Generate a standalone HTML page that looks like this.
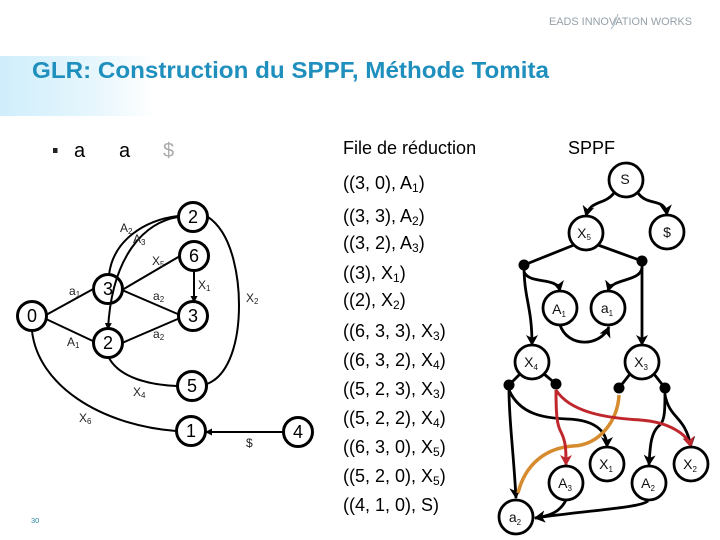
<!DOCTYPE html>
<html>
<head>
<meta charset="utf-8">
<style>
html,body{margin:0;padding:0;background:#fff}
svg{display:block}
text{font-family:"Liberation Sans",sans-serif}
.s{fill:#fff;stroke:#000;stroke-width:2.8}
.nt{font-size:18px;text-anchor:middle;fill:#000}
.st{font-size:14px;text-anchor:middle;fill:#111}
.l{font-size:12px;fill:#222}
.sub{font-size:8px}
.q{font-size:18px;fill:#000}
.q .i{font-size:12px}
.e{fill:none;stroke:#000;stroke-width:2}
.p{fill:none;stroke:#000;stroke-width:2.8}
</style>
</head>
<body>
<svg xmlns="http://www.w3.org/2000/svg" width="720" height="540" viewBox="0 0 720 540">
<defs>
<linearGradient id="g" x1="0" x2="1" y1="0" y2="0"><stop offset="0" stop-color="#cfeefb"/><stop offset="0.6" stop-color="#e6f6fd"/><stop offset="1" stop-color="#fff"/></linearGradient>
<marker id="a" markerWidth="7" markerHeight="7" refX="6" refY="3.5" orient="auto" markerUnits="userSpaceOnUse"><path d="M0 0L7 3.5L0 7z" fill="#000"/></marker>
<marker id="b" markerWidth="12" markerHeight="12" refX="10" refY="6" orient="auto" markerUnits="userSpaceOnUse"><path d="M0 0L11 6L0 12L3 6z" fill="#000"/></marker>
<marker id="r" markerWidth="12" markerHeight="12" refX="10" refY="6" orient="auto" markerUnits="userSpaceOnUse"><path d="M0 0L11 6L0 12L3 6z" fill="#c0272d"/></marker>
</defs>
<rect width="720" height="540" fill="#fff"/>
<rect x="0" y="56" width="155" height="60" fill="url(#g)"/>
<text x="549" y="25" font-size="11" fill="#95a0a9" textLength="143" lengthAdjust="spacingAndGlyphs">EADS INNOVATION WORKS</text>
<path d="M611 29L614 25L618 14" fill="none" stroke="#9fb4c0" stroke-width="1"/>
<text x="32" y="78" font-size="23" font-weight="bold" fill="#1f8fbd" textLength="517" lengthAdjust="spacingAndGlyphs">GLR: Construction du SPPF, Méthode Tomita</text>
<rect x="53" y="148" width="4.500" height="5" fill="#222"/>
<text x="74" y="157" font-size="20" fill="#000">a</text>
<text x="119" y="157" font-size="20" fill="#000">a</text>
<text x="163" y="157" font-size="20" fill="#aaa">$</text>
<text x="343" y="154" font-size="18" fill="#000">File de réduction</text>
<text x="568" y="154" font-size="18" fill="#000">SPPF</text>

<!-- GSS edges -->
<g class="e">
<path d="M46 315L95 288"/><path d="M46 319L95 342"/>
<path d="M122 290L180 256"/><path d="M122 290L180 315"/><path d="M122 343L180 318"/>
<path d="M194 271L194 302" marker-end="url(#a)"/>
<path d="M109 275C113 240 145 220 178 216"/>
<path d="M208 217C235 235 239 285 239 305C239 340 230 375 207 384"/>
<path d="M109 358C120 378 150 385 177 386"/>
<path d="M32 331C38 385 100 425 176 431"/>
<path d="M283 432L206 432" marker-end="url(#a)"/>
</g>
<g fill="#fff" stroke="#000" stroke-width="3">
<circle cx="193" cy="217" r="14.500"/><circle cx="194" cy="256" r="14.500"/>
<circle cx="193" cy="316" r="14.500"/><circle cx="32" cy="316" r="14.500"/>
<circle cx="108" cy="343" r="14.500"/><circle cx="192" cy="386" r="14.500"/>
<circle cx="191" cy="431" r="14.500"/><circle cx="298" cy="432" r="14.500"/>
<circle cx="108" cy="289" r="14.500"/>
</g>
<g class="nt">
<text x="193" y="223">2</text><text x="194" y="262">6</text><text x="108" y="295">3</text><text x="193" y="322">3</text>
<text x="32" y="322">0</text><text x="108" y="349">2</text><text x="192" y="392">5</text><text x="191" y="437">1</text><text x="298" y="438">4</text>
</g>
<path d="M178 217C145 222 112 255 108 329" class="e" marker-end="url(#a)"/>
<g class="l">
<text x="120" y="232">A<tspan class="sub" dy="2">2</tspan></text>
<text x="133" y="243">A<tspan class="sub" dy="2">3</tspan></text>
<text x="152" y="265">X<tspan class="sub" dy="2">5</tspan></text>
<text x="69" y="295">a<tspan class="sub" dy="2">1</tspan></text>
<text x="153" y="300">a<tspan class="sub" dy="2">2</tspan></text>
<text x="198" y="289">X<tspan class="sub" dy="2">1</tspan></text>
<text x="246" y="302">X<tspan class="sub" dy="2">2</tspan></text>
<text x="153" y="338">a<tspan class="sub" dy="2">2</tspan></text>
<text x="67" y="346">A<tspan class="sub" dy="2">1</tspan></text>
<text x="133" y="396">X<tspan class="sub" dy="2">4</tspan></text>
<text x="79" y="422">X<tspan class="sub" dy="2">6</tspan></text>
<text x="246" y="447">$</text>
</g>
<text x="31" y="523" font-size="7.500" fill="#2b8aa5">30</text>

<!-- Queue -->
<g class="q">
<text x="343" y="189">((3, 0), A<tspan class="i" dy="3">1</tspan><tspan dy="-3">)</tspan></text>
<text x="343" y="222">((3, 3), A<tspan class="i" dy="3">2</tspan><tspan dy="-3">)</tspan></text>
<text x="343" y="249">((3, 2), A<tspan class="i" dy="3">3</tspan><tspan dy="-3">)</tspan></text>
<text x="343" y="279">((3), X<tspan class="i" dy="3">1</tspan><tspan dy="-3">)</tspan></text>
<text x="343" y="306">((2), X<tspan class="i" dy="3">2</tspan><tspan dy="-3">)</tspan></text>
<text x="343" y="337">((6, 3, 3), X<tspan class="i" dy="3">3</tspan><tspan dy="-3">)</tspan></text>
<text x="343" y="366">((6, 3, 2), X<tspan class="i" dy="3">4</tspan><tspan dy="-3">)</tspan></text>
<text x="343" y="395">((5, 2, 3), X<tspan class="i" dy="3">3</tspan><tspan dy="-3">)</tspan></text>
<text x="343" y="424">((5, 2, 2), X<tspan class="i" dy="3">4</tspan><tspan dy="-3">)</tspan></text>
<text x="343" y="453">((6, 3, 0), X<tspan class="i" dy="3">5</tspan><tspan dy="-3">)</tspan></text>
<text x="343" y="482">((5, 2, 0), X<tspan class="i" dy="3">5</tspan><tspan dy="-3">)</tspan></text>
<text x="343" y="511">((4, 1, 0), S)</text>
</g>

<!-- SPPF edges -->
<g class="p">
<path d="M614 193C605 205 590 200 586 216" marker-end="url(#b)"/>
<path d="M638 193C648 207 665 197 667 215" marker-end="url(#b)"/>
<path d="M574 245L524 265"/><path d="M598 245L642 261"/>
<path d="M524 272C530 285 557 276 560 291" marker-end="url(#b)"/>
<path d="M642 268C640 282 612 278 608 291" marker-end="url(#b)"/>
<path d="M524 265C524 300 532 305 532 345" marker-end="url(#b)"/>
<path d="M642 261L642 345" marker-end="url(#b)"/>
<path d="M560 325C568 348 600 347 609 327" marker-end="url(#b)"/>
<path d="M520 374L509 385"/><path d="M544 374L556 384"/>
<path d="M630 374L619 388"/><path d="M654 374L665 388"/>
<path d="M509 390C509 420 513 445 516 498" marker-end="url(#b)"/>
<path d="M509 390C520 415 545 418 567 419C600 420 607 435 607 447" marker-end="url(#b)"/>
<path d="M665 388C665 410 665 420 660 425C650 432 650 450 649 465" marker-end="url(#b)"/>
<path d="M665 395C670 420 685 415 691 447" marker-end="url(#b)"/>
<path d="M566 500C560 512 550 516 535 518" marker-end="url(#b)"/>
<path d="M648 501C640 508 590 510 535 518" marker-end="url(#b)"/>
</g>
<path d="M619 395C618 420 600 445 573 446C545 448 525 465 518 493" fill="none" stroke="#d68b2e" stroke-width="3.500"/>
<path d="M556 390C556 415 557 425 561 432C566 442 566 450 566 465" fill="none" stroke="#c0272d" stroke-width="3" marker-end="url(#r)"/>
<path d="M556 390C570 412 605 418 640 420C670 422 688 435 691 447" fill="none" stroke="#c0272d" stroke-width="3" marker-end="url(#r)"/>

<g fill="#000">
<circle cx="524" cy="265" r="5.500"/><circle cx="642" cy="261" r="5.500"/>
<circle cx="509" cy="385" r="5.500"/><circle cx="556" cy="384" r="5.500"/>
<circle cx="619" cy="388" r="5.500"/><circle cx="665" cy="388" r="5.500"/>
</g>
<g class="s">
<circle cx="626" cy="180" r="17"/><circle cx="586" cy="233" r="17"/><circle cx="667" cy="232" r="17"/>
<circle cx="560" cy="308" r="17"/><circle cx="608" cy="308" r="17"/>
<circle cx="532" cy="362" r="17"/><circle cx="642" cy="362" r="17"/>
<circle cx="607" cy="464" r="17"/><circle cx="691" cy="464" r="17"/>
<circle cx="566" cy="483" r="17"/><circle cx="649" cy="483" r="17"/>
<circle cx="516" cy="517" r="17"/>
</g>
<g class="st">
<text x="625" y="184">S</text>
<text x="584" y="238">X<tspan class="sub" dy="2">5</tspan></text>
<text x="667" y="237">$</text>
<text x="559" y="314">A<tspan class="sub" dy="3">1</tspan></text>
<text x="607" y="313">a<tspan class="sub" dy="3">1</tspan></text>
<text x="531" y="367">X<tspan class="sub" dy="3">4</tspan></text>
<text x="641" y="367">X<tspan class="sub" dy="3">3</tspan></text>
<text x="606" y="469">X<tspan class="sub" dy="3">1</tspan></text>
<text x="690" y="469">X<tspan class="sub" dy="3">2</tspan></text>
<text x="565" y="488">A<tspan class="sub" dy="3">3</tspan></text>
<text x="648" y="488">A<tspan class="sub" dy="3">2</tspan></text>
<text x="515" y="522">a<tspan class="sub" dy="3">2</tspan></text>
</g>
</svg>
</body>
</html>
